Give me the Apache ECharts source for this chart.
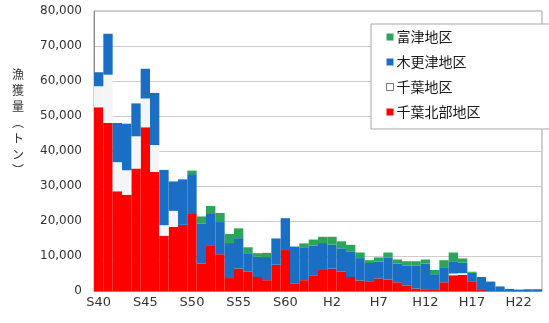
<!DOCTYPE html>
<html>
<head>
<meta charset="utf-8">
<script src="https://cdn.jsdelivr.net/npm/echarts@6/dist/echarts.min.js"></script>
<style>
  html, body { margin: 0; padding: 0; background: #fff; }
  #chart { width: 549px; height: 323px; }
</style>
</head>
<body>
<div id="chart"></div>
<script>
// Fiscal years S40 (1965) to H24 (2012)
const years = [];
for (let y = 40; y <= 63; y++) years.push('S' + y);
for (let y = 1; y <= 24; y++) years.push('H' + y);

// Catch by district (tons)
const chibaNorth = [52500, 48000, 28500, 27500, 35000, 46800, 34000, 15800, 18300, 18900,
  22000, 7800, 13100, 10500, 3700, 6400, 5500, 4000, 3100, 7500,
  11700, 2200, 3100, 4500, 6000, 6400, 5500, 4000, 3000, 2800,
  3600, 3300, 2500, 1500, 700, 500, 300, 2500, 4500, 4600,
  2600, 300, 0, 0, 0, 0, 0, 0];
const chiba = [6000, 13800, 8300, 7000, 9200, 8200, 7700, 3000, 4600, 0,
  0, 0, 0, 0, 0, 0, 0, 0, 0, 0,
  0, 0, 0, 0, 0, 0, 0, 0, 0, 0,
  0, 0, 0, 0, 0, 0, 0, 0, 500, 500,
  0, 0, 0, 0, 0, 0, 0, 0];
const kisarazu = [4000, 11700, 11200, 13300, 9400, 8500, 14900, 15800, 8400, 13000,
  11400, 11500, 8900, 9200, 10000, 8700, 5300, 5800, 6600, 7500,
  9100, 10500, 9200, 8500, 7700, 6900, 6700, 7200, 6400, 5200,
  4800, 6200, 5300, 5800, 6500, 7300, 4500, 4300, 3500, 3000,
  2600, 3700, 2700, 1300, 600, 400, 500, 500];
const futtsu = [0, 0, 0, 0, 0, 0, 0, 0, 0, 0,
  1000, 2000, 2300, 2600, 2600, 2800, 1700, 1000, 1200, 0,
  0, 0, 1300, 1700, 1800, 2200, 2000, 2000, 1600, 800,
  1200, 1500, 1200, 1200, 1300, 1200, 1200, 2000, 2500, 1200,
  300, 0, 0, 0, 0, 0, 0, 0];

const yTicks = { min: 0, max: 80000, interval: 10000 };

const chart = echarts.init(document.getElementById('chart'), null, { renderer: 'canvas' });

const bar = (name, data, color) => ({
  name, type: 'bar', stack: 'catch', data,
  barCategoryGap: '0%', barGap: '0%',
  itemStyle: { color },
  emphasis: { disabled: true }
});

chart.setOption({
  animation: false,
  textStyle: { fontFamily: 'DejaVu Sans' },
  grid: {
    left: 94, right: 7, top: 11, bottom: 32,
    show: true, borderColor: '#a0a0a0', borderWidth: 1, backgroundColor: 'transparent'
  },
  legend: {
    orient: 'vertical',
    left: 371, top: 24,
    padding: [6, 70, 10, 15],
    itemWidth: 7, itemHeight: 7, itemGap: 11,
    backgroundColor: '#fff',
    borderColor: '#a8a8a8', borderWidth: 1,
    textStyle: { fontFamily: 'Noto Sans CJK JP', fontSize: 14, color: '#1a1a1a', padding: [0, 0, 0, -2] },
    data: [
      { name: '富津地区', icon: 'rect' },
      { name: '木更津地区', icon: 'rect' },
      { name: '千葉地区', icon: 'rect', itemStyle: { color: '#fff', borderColor: '#777', borderWidth: 1 } },
      { name: '千葉北部地区', icon: 'rect' }
    ]
  },
  xAxis: {
    type: 'category',
    data: years,
    axisLine: { lineStyle: { color: '#8a8a8a' } },
    axisTick: { show: false },
    axisLabel: {
      interval: 4, color: '#333', fontSize: 13, margin: 5,
      fontFamily: 'DejaVu Sans'
    }
  },
  yAxis: {
    type: 'value',
    min: yTicks.min, max: yTicks.max, interval: yTicks.interval,
    axisLine: { show: true, lineStyle: { color: '#8a8a8a' } },
    axisTick: { show: false },
    splitLine: { lineStyle: { color: '#cdcdcd' } },
    axisLabel: {
      color: '#333', fontSize: 12, margin: 12, fontFamily: 'DejaVu Sans',
      formatter: v => v.toLocaleString('en-US')
    }
  },
  graphic: [{
    type: 'text',
    left: 12, top: 66,
    style: {
      text: '漁\n獲\n量\n︵\nト\nン\n︶',
      font: '12px "Noto Sans CJK JP"',
      fill: '#333',
      lineHeight: 16,
      align: 'center'
    }
  }],
  series: [
    bar('千葉北部地区', chibaNorth, '#ff0000'),
    bar('千葉地区', chiba, '#f3f5f7'),
    bar('木更津地区', kisarazu, '#1a6fc4'),
    bar('富津地区', futtsu, '#2aa55a')
  ]
});
</script>
</body>
</html>
